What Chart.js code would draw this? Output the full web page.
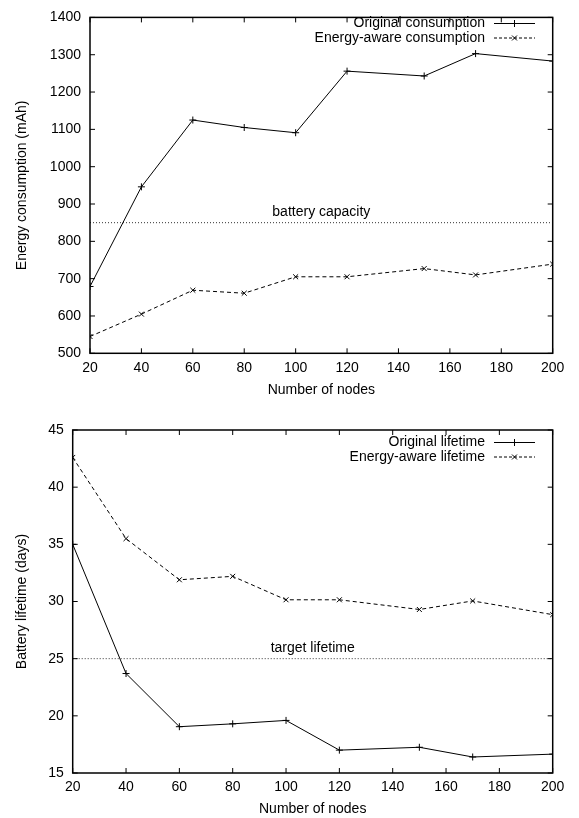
<!DOCTYPE html>
<html>
<head>
<meta charset="utf-8">
<script src="https://cdn.jsdelivr.net/npm/chart.js@4.4.1/dist/chart.umd.min.js"></script>
<style>
    body { margin: 0; background: #fff; }
    #wrap1 { position: absolute; left: 0; top: 0; width: 579px; height: 400px; }
    #wrap2 { position: absolute; left: 0; top: 400px; width: 579px; height: 418px; }
</style>
</head>
<body>
<div id="wrap1"><canvas id="chart1" width="579" height="400"></canvas></div>
<div id="wrap2"><canvas id="chart2" width="579" height="418"></canvas></div>
<script>
const nodes = [20, 40, 60, 80, 100, 120, 150, 170, 200];

const originalConsumption = [679, 946, 1125, 1105, 1091, 1256, 1243, 1303, 1283];
const energyAwareConsumption = [545, 605, 669, 661, 705, 705, 727, 710, 739];
const batteryCapacity = 850;

const originalLifetime = [35.0, 23.7, 19.05, 19.3, 19.6, 17.0, 17.25, 16.4, 16.65];
const energyAwareLifetime = [42.6, 35.5, 31.9, 32.2, 30.15, 30.15, 29.3, 30.05, 28.85];
const targetLifetime = 25;

const FONT = "'Liberation Sans', Arial, sans-serif";
Chart.defaults.font.family = FONT;
Chart.defaults.font.size = 14;
Chart.defaults.color = '#000';

function toPoints(xs, ys) {
    return xs.map((x, i) => ({ x: x, y: ys[i] }));
}

// gnuplot style frame with inward ticks on all four sides + reference label + legend
function gnuplotPlugin(refValue, refText, legendRows) {
    return {
        id: 'gnuplot',
        afterDatasetsDraw(chart) {
            const ctx = chart.ctx;
            const a = chart.chartArea;
            const xs = chart.scales.x;
            const ys = chart.scales.y;
            ctx.save();
            ctx.strokeStyle = '#000';
            ctx.lineWidth = 1.5;
            ctx.strokeRect(a.left, a.top, a.right - a.left, a.bottom - a.top);
            ctx.lineWidth = 1;
            const t = 5;
            ctx.beginPath();
            xs.ticks.forEach(tk => {
                const px = xs.getPixelForValue(tk.value);
                ctx.moveTo(px, a.bottom); ctx.lineTo(px, a.bottom - t);
                ctx.moveTo(px, a.top); ctx.lineTo(px, a.top + t);
            });
            ys.ticks.forEach(tk => {
                const py = ys.getPixelForValue(tk.value);
                ctx.moveTo(a.left, py); ctx.lineTo(a.left + t, py);
                ctx.moveTo(a.right, py); ctx.lineTo(a.right - t, py);
            });
            ctx.stroke();

            // reference label
            ctx.font = '14px ' + FONT;
            ctx.fillStyle = '#000';
            ctx.textAlign = 'center';
            ctx.textBaseline = 'middle';
            ctx.fillText(refText, xs.getPixelForValue(110), ys.getPixelForValue(refValue) - 11);

            // legend
            const textRight = 485;
            const lineLeft = 494, lineRight = 535;
            legendRows.forEach((row, i) => {
                const y = legendRows.top + i * 14.5;
                ctx.textAlign = 'right';
                ctx.fillText(row.label, textRight, y);
                ctx.beginPath();
                ctx.setLineDash(row.dash);
                ctx.moveTo(lineLeft, y);
                ctx.lineTo(lineRight, y);
                ctx.stroke();
                ctx.setLineDash([]);
                Chart.helpers.drawPoint(ctx, { pointStyle: row.style, radius: row.radius, borderWidth: 1 }, (lineLeft + lineRight) / 2, y);
            });
            ctx.restore();
        }
    };
}

function makeConfig(orig, aware, refValue, labels, yMin, yMax, yStep, yTitle, yWidth, xHeight, padTop, xTitlePad) {
    return {
        type: 'line',
        data: {
            datasets: [
                {
                    label: labels[0],
                    data: toPoints(nodes, orig),
                    borderColor: '#000',
                    backgroundColor: '#000',
                    borderWidth: 1,
                    pointStyle: 'cross',
                    pointRadius: 3.5,
                    pointBorderWidth: 1,
                    tension: 0
                },
                {
                    label: labels[1],
                    data: toPoints(nodes, aware),
                    borderColor: '#000',
                    backgroundColor: '#000',
                    borderWidth: 1,
                    borderDash: [4, 3],
                    pointStyle: 'crossRot',
                    pointRadius: 3.5,
                    pointBorderWidth: 1,
                    tension: 0
                },
                {
                    label: labels[2],
                    data: [{ x: nodes[0], y: refValue }, { x: nodes[nodes.length - 1], y: refValue }],
                    borderColor: '#333',
                    borderWidth: 1,
                    borderDash: [1, 2],
                    pointRadius: 0
                }
            ]
        },
        options: {
            responsive: false,
            animation: false,
            layout: { padding: { top: padTop, right: 26.3, left: 0, bottom: 0 } },
            plugins: {
                legend: { display: false },
                tooltip: { enabled: false }
            },
            scales: {
                x: {
                    type: 'linear',
                    min: 20,
                    max: 200,
                    ticks: { stepSize: 20, padding: 6, maxRotation: 0, callback: (v) => String(v) },
                    grid: { display: false, drawTicks: false },
                    border: { display: false },
                    title: { display: true, text: 'Number of nodes', padding: { top: 0, bottom: xTitlePad } },
                    afterFit: (scale) => { scale.height = xHeight; }
                },
                y: {
                    min: yMin,
                    max: yMax,
                    ticks: { stepSize: yStep, padding: 9, callback: (v) => String(v) },
                    grid: { display: false, drawTicks: false },
                    border: { display: false },
                    title: { display: true, text: yTitle, padding: { top: 13.6, bottom: 0 } },
                    afterFit: (scale) => { scale.width = yWidth; }
                }
            }
        }
    };
}

// CHART 1
const legend1 = [
    { label: 'Original consumption', dash: [], style: 'cross', radius: 3.5 },
    { label: 'Energy-aware consumption', dash: [3, 2], style: 'crossRot', radius: 3.5 }
];
legend1.top = 23.5;
const config1 = makeConfig(originalConsumption, energyAwareConsumption, batteryCapacity,
    ['Original consumption', 'Energy-aware consumption', 'battery capacity'],
    500, 1400, 100, 'Energy consumption (mAh)', 90, 46.7, 10.5, 1.6);
config1.plugins = [gnuplotPlugin(batteryCapacity, 'battery capacity', legend1)];
const chart1 = new Chart(document.getElementById('chart1'), config1);

// CHART 2
const legend2 = [
    { label: 'Original lifetime', dash: [], style: 'cross', radius: 3.5 },
    { label: 'Energy-aware lifetime', dash: [3, 2], style: 'crossRot', radius: 3.5 }
];
legend2.top = 42.5;
const config2 = makeConfig(originalLifetime, energyAwareLifetime, targetLifetime,
    ['Original lifetime', 'Energy-aware lifetime', 'target lifetime'],
    15, 45, 5, 'Battery lifetime (days)', 72.7, 45, 30, 0.6);
config2.plugins = [gnuplotPlugin(targetLifetime, 'target lifetime', legend2)];
const chart2 = new Chart(document.getElementById('chart2'), config2);
</script>
</body>
</html>
